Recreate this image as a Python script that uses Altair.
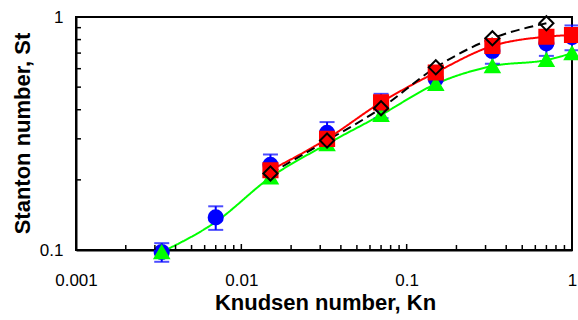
import altair as alt
import pandas as pd

# Knudsen numbers of the measurement / simulation stations
kn = [0.0033, 0.007, 0.015, 0.033, 0.07, 0.15, 0.33, 0.7, 1.0]

# TVSL model (marker shown only at the computed stations)
tvsl_st = [0.098, 0.132, 0.205, 0.285, 0.380, 0.516, 0.616, 0.654, 0.699]
tvsl_marker = [True, False, True, True, True, True, True, True, True]

# Experiment with symmetric error bars
exp_st = [0.098, 0.138, 0.232, 0.318, 0.418, 0.542, 0.715, 0.771, 0.820]
exp_err = [0.009, 0.016, 0.025, 0.036, 0.050, 0.055, 0.085, 0.090, 0.100]

# DSMC simulation
dsmc_kn = [0.015, 0.033, 0.07, 0.15, 0.33, 0.7, 1.0]
dsmc_st = [0.220, 0.300, 0.430, 0.578, 0.751, 0.823, 0.837]

# Navier-Stokes with slip
nst_kn = [0.015, 0.033, 0.07, 0.15, 0.33, 0.7]
nst_st = [0.213, 0.295, 0.406, 0.608, 0.810, 0.940]

series_names = ["TVSL", "experiment", "DSMC", "N-St,slip"]
series_colors = ["#00ff00", "#0000ff", "#ff0000", "#000000"]
series_fills = ["#00ff00", "#0000ff", "#ff0000", "transparent"]
series_shapes = ["triangle-up", "circle", "square", "diamond"]

x_tick_labels = ["0.001", "0.01", "0.1", "1"]
y_tick_labels = ["0.1", "1"]

X_DOMAIN = [0.001, 1]
Y_DOMAIN = [0.1, 1]
FONT = "Liberation Sans"
W, H = 496, 233

# major and minor tick positions on the log axes
x_major = [0.001, 0.01, 0.1, 1]
x_minor = [round(m * 10 ** e, 6) for e in range(-3, 0) for m in range(2, 10)]
y_major = [0.1, 1]
y_minor = [round(m * 0.1, 6) for m in range(2, 10)]

tvsl = pd.DataFrame({"Kn": kn, "St": tvsl_st, "marker": tvsl_marker, "series": "TVSL"})
expt = pd.DataFrame({"Kn": kn, "St": exp_st, "err": exp_err, "series": "experiment"})
expt["lo"] = expt["St"] - expt["err"]
expt["hi"] = expt["St"] + expt["err"]
dsmc = pd.DataFrame({"Kn": dsmc_kn, "St": dsmc_st, "series": "DSMC"})
nst = pd.DataFrame({"Kn": nst_kn, "St": nst_st, "series": "N-St,slip"})
curves = pd.concat([tvsl[["Kn", "St", "series"]], dsmc, nst], ignore_index=True)
markers = pd.concat(
    [expt[["Kn", "St", "series"]], tvsl[tvsl["marker"]][["Kn", "St", "series"]], dsmc, nst],
    ignore_index=True,
)

# tick marks sit on the frame: x ticks on the bottom edge, y ticks on the left edge
xt = pd.DataFrame({
    "Kn": x_major + x_minor,
    "St": [Y_DOMAIN[0]] * (len(x_major) + len(x_minor)),
    "kind": ["major"] * len(x_major) + ["minor"] * len(x_minor),
})
yt = pd.DataFrame({
    "Kn": [X_DOMAIN[0]] * (len(y_major) + len(y_minor)),
    "St": y_major + y_minor,
    "kind": ["major"] * len(y_major) + ["minor"] * len(y_minor),
})


def label_expr(labels):
    arr = ",".join(f"'{s}'" for s in labels)
    return f"indexof([{arr}], format(datum.value, '')) >= 0 ? format(datum.value, '') : ''"


x_scale = alt.Scale(type="log", domain=X_DOMAIN, nice=False)
y_scale = alt.Scale(type="log", domain=Y_DOMAIN, nice=False)

common_axis = dict(
    grid=False, ticks=False, domainColor="black", domainWidth=2, labelFont=FONT,
    labelFontSize=17, labelColor="black", labelFlush=False, labelOverlap=False,
    labelBound=False, titleFont=FONT, titleFontSize=22, titleFontWeight="bold",
    titleColor="black", titleAlign="center", titleBaseline="middle",
)
x_axis = alt.Axis(
    values=x_major, labelExpr=label_expr(x_tick_labels), labelPadding=22,
    title="Knudsen number, Kn", titleX=249, titleY=52, **common_axis,
)
y_axis = alt.Axis(
    values=y_major, labelExpr=label_expr(y_tick_labels), labelPadding=13,
    title="Stanton number, St", titleX=-54, titleY=116, titleAngle=270,
    **common_axis,
)

legend = alt.Legend(
    title=None, orient="none", legendX=48, legendY=13, padding=0,
    labelFont=FONT, labelFontSize=18, labelColor="black", labelOffset=37,
    symbolStrokeWidth=2, rowPadding=15.5,
)

X = alt.X("Kn:Q", scale=x_scale, axis=x_axis)
Y = alt.Y("St:Q", scale=y_scale, axis=y_axis)

# short inward strokes drawn as path symbols (5 px minor, 6 px major)
x_tick_marks = alt.Chart(xt).mark_point(
    shape="M0,0V-1", strokeWidth=1.5, color="black", opacity=1, filled=False).encode(
    x="Kn:Q", y="St:Q",
    size=alt.Size("kind:N", scale=alt.Scale(domain=["major", "minor"], range=[144, 100]), legend=None))
y_tick_marks = alt.Chart(yt).mark_point(
    shape="M0,0H1", strokeWidth=1.5, color="black", opacity=1, filled=False).encode(
    x="Kn:Q", y="St:Q",
    size=alt.Size("kind:N", scale=alt.Scale(domain=["major", "minor"], range=[144, 100]), legend=None))

err_rule = alt.Chart(expt).mark_rule(color="#0000ff", strokeWidth=2).encode(
    x="Kn:Q", y="lo:Q", y2="hi:Q")
err_lo = alt.Chart(expt).mark_tick(color="#0000ff", thickness=2, size=15, orient="horizontal").encode(
    x="Kn:Q", y="lo:Q")
err_hi = alt.Chart(expt).mark_tick(color="#0000ff", thickness=2, size=15, orient="horizontal").encode(
    x="Kn:Q", y="hi:Q")

lines = alt.Chart(curves).mark_line(strokeWidth=2, interpolate="monotone").encode(
    x=X, y=Y,
    color=alt.Color("series:N", scale=alt.Scale(domain=series_names, range=series_colors), legend=None),
    strokeDash=alt.StrokeDash("series:N", scale=alt.Scale(
        domain=["TVSL", "DSMC", "N-St,slip"], range=[[1, 0], [1, 0], [9, 5]]), legend=None),
    detail="series:N",
)

# all series markers in one layer; shape/fill/stroke merge into one legend
marker_pts = alt.Chart(markers).mark_point(size=200, strokeWidth=2, opacity=1, filled=True).encode(
    x="Kn:Q", y="St:Q",
    shape=alt.Shape("series:N", scale=alt.Scale(domain=series_names, range=series_shapes), legend=legend),
    fill=alt.Fill("series:N", scale=alt.Scale(domain=series_names, range=series_fills), legend=legend),
    stroke=alt.Stroke("series:N", scale=alt.Scale(domain=series_names, range=series_colors), legend=legend),
    order=alt.Order("idx:Q"),
).transform_window(idx="row_number()")

chart = alt.layer(
    lines, err_rule, err_lo, err_hi, marker_pts, x_tick_marks, y_tick_marks
).properties(
    width=W, height=H, autosize="none",
    padding={"left": 76, "top": 17, "right": 6, "bottom": 70},
    background="white",
).configure_view(stroke="black", strokeWidth=2)

chart.save("out.html", embed_options={"renderer": "svg", "actions": False})
